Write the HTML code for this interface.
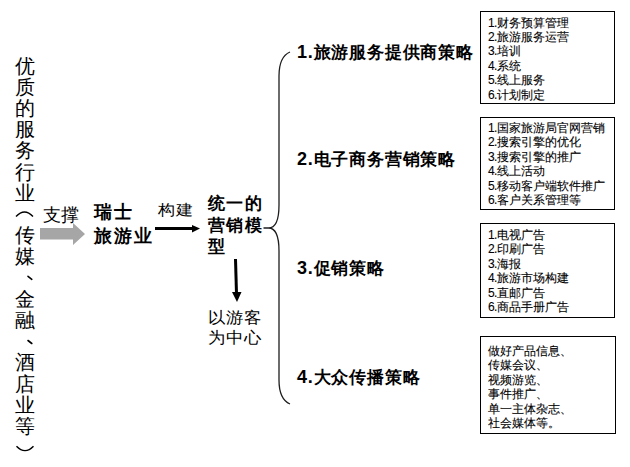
<!DOCTYPE html>
<html><head><meta charset="utf-8">
<style>
html,body{margin:0;padding:0;background:#fff;width:630px;height:467px;overflow:hidden}
body{position:relative;font-family:"Liberation Sans",sans-serif;color:#000}
.a{position:absolute;white-space:nowrap}
.vc{position:absolute;left:14px;width:22px;text-align:center;font-size:20px;line-height:22px}
.box{position:absolute;left:480px;width:133px;border:1.5px solid #000;box-sizing:content-box}
.bt{position:absolute;left:7px;font-size:12px;line-height:14.4px;white-space:nowrap;-webkit-text-stroke:0.1px #000}
.h{position:absolute;left:297px;font-size:17px;font-weight:bold;line-height:20px;white-space:nowrap;letter-spacing:0.8px}
.h b{font-size:18px}
.bt i{font-style:normal;letter-spacing:-0.75px}
</style></head><body>
<div class="vc" style="top:54.5px">优</div>
<div class="vc" style="top:75.7px">质</div>
<div class="vc" style="top:96.9px">的</div>
<div class="vc" style="top:118.1px">服</div>
<div class="vc" style="top:139.3px">务</div>
<div class="vc" style="top:160.5px">行</div>
<div class="vc" style="top:181.7px">业</div>
<div class="vc" style="top:224.1px">传</div>
<div class="vc" style="top:245.3px">媒</div>
<div class="vc" style="top:287.7px">金</div>
<div class="vc" style="top:308.9px">融</div>
<div class="vc" style="top:351.3px">酒</div>
<div class="vc" style="top:372.5px">店</div>
<div class="vc" style="top:393.7px">业</div>
<div class="vc" style="top:414.9px">等</div>
<div class="a" style="left:43px;top:205px;font-size:18px;line-height:20px">支撑</div>
<svg class="a" style="left:0;top:0" width="630" height="467">
<path d="M16,216.5 Q24.5,207.5 33,216.5" fill="none" stroke="#000" stroke-width="1.4"/>
<path d="M16.5,446.2 Q25,455 33.5,446.2" fill="none" stroke="#000" stroke-width="1.4"/>
<path d="M28,276.3 L31.8,279.3" fill="none" stroke="#000" stroke-width="1.6" stroke-linecap="round"/>
<path d="M28,340.5 L31.8,343.5" fill="none" stroke="#000" stroke-width="1.6" stroke-linecap="round"/>
<polygon points="40,228 73,228 73,223 85,234 73,245 73,239.5 40,239.5" fill="#a6a6a6"/>
<line x1="155" y1="228.5" x2="194" y2="228.5" stroke="#000" stroke-width="3"/>
<polygon points="192,225 200,228.5 192,232.5" fill="#000"/>
<line x1="235.5" y1="259" x2="236.5" y2="294" stroke="#000" stroke-width="3"/>
<polygon points="232,292 241.5,292 237,302" fill="#000"/>
<path d="M290,52 C283,55 279,63 279,76 L279,205 C279,220 275,228 268.5,228 L263.5,228 M268.5,228 C275,228 279,236 279,251 L279,380 C279,393 283,401 290,404" fill="none" stroke="#1e1e1e" stroke-width="1.3"/>
</svg>
<div class="a" style="left:94px;top:201px;font-size:18px;font-weight:bold;line-height:23.5px;letter-spacing:2px">瑞士<br>旅游业</div>
<div class="a" style="left:158px;top:201px;font-size:17.5px;line-height:20px;letter-spacing:-0.5px;transform:scaleY(0.88);transform-origin:0 0">构建</div>
<div class="a" style="left:208px;top:193px;font-size:17px;font-weight:bold;line-height:21.5px;letter-spacing:1.3px">统一的<br>营销模<br>型</div>
<div class="a" style="left:207.5px;top:308px;font-size:17.5px;line-height:21.5px;transform:scaleY(0.92);transform-origin:0 0">以游客<br>为中心</div>
<div class="h" style="top:42px"><b>1.</b>旅游服务提供商策略</div>
<div class="h" style="top:149px"><b>2.</b>电子商务营销策略</div>
<div class="h" style="top:258px"><b>3.</b>促销策略</div>
<div class="h" style="top:367px"><b>4.</b>大众传播策略</div>
<div class="box" style="top:11px;height:91px">
<div class="bt" style="top:3.5px"><i>1.</i>财务预算管理<br><i>2.</i>旅游服务运营<br><i>3.</i>培训<br><i>4.</i>系统<br><i>5.</i>线上服务<br><i>6.</i>计划制定</div></div>
<div class="box" style="top:117px;height:91px">
<div class="bt" style="top:3px"><i>1.</i>国家旅游局官网营销<br><i>2.</i>搜索引擎的优化<br><i>3.</i>搜索引擎的推广<br><i>4.</i>线上活动<br><i>5.</i>移动客户端软件推广<br><i>6.</i>客户关系管理等</div></div>
<div class="box" style="top:223px;height:93px">
<div class="bt" style="top:4px"><i>1.</i>电视广告<br><i>2.</i>印刷广告<br><i>3.</i>海报<br><i>4.</i>旅游市场构建<br><i>5.</i>直邮广告<br><i>6.</i>商品手册广告</div></div>
<div class="box" style="top:336px;height:96px;width:134px">
<div class="bt" style="top:7px;line-height:14.4px">做好产品信息、<br>传媒会议、<br>视频游览、<br>事件推广、<br>单一主体杂志、<br>社会媒体等。</div></div>
</body></html>
